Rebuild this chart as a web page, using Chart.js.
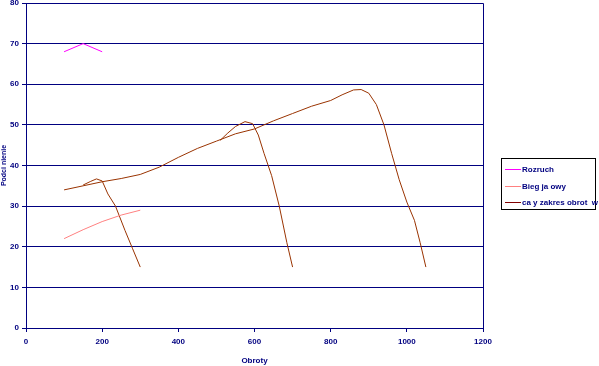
<!DOCTYPE html>
<html>
<head>
<meta charset="utf-8">
<script src="https://cdn.jsdelivr.net/npm/chart.js@4"></script>
<style>
  html, body { margin: 0; padding: 0; background: #fff; }
  #wrap { width: 599px; height: 366px; }
</style>
</head>
<body>
<div id="wrap"><canvas id="myChart" width="599" height="366"></canvas></div>
<script>
// rpm ticks / axis
const xTicks = [0, 200, 400, 600, 800, 1000, 1200];
const yTicks = [0, 10, 20, 30, 40, 50, 60, 70, 80];

// Rozruch
const startRpm = [100, 150, 200];
const startVal = [68, 70, 68];

// Bieg jalowy
const idleRpm = [100, 150, 200, 250, 300];
const idleVal = [22, 24.2, 26.2, 27.8, 29];

// caly zakres obrotow - main curve + two branches
const mainRpm = [100, 150, 200, 250, 300, 350, 400, 450, 500, 550, 600, 650, 700, 750, 800, 830, 860, 880, 900, 920, 940, 960, 980, 1000, 1020, 1035, 1050];
const mainVal = [34, 35, 36, 36.8, 37.8, 39.6, 42, 44.2, 46, 47.8, 49, 51, 52.8, 54.6, 56, 57.4, 58.6, 58.7, 57.8, 55, 50, 43, 36.5, 31, 26.5, 21, 15];
const gear1Rpm = [150, 170, 185, 200, 215, 235, 260, 280, 300];
const gear1Val = [35.2, 36.1, 36.7, 36.2, 33, 30, 24, 19.5, 15];
const gear2Rpm = [510, 530, 550, 575, 595, 610, 625, 645, 665, 685, 700];
const gear2Val = [46.2, 48, 49.6, 50.8, 50.3, 47.5, 43, 37.5, 30, 21, 15];

const navy = '#000080';
const colors = ['#FF00FF', '#FF8080', '#993300'];
const legendColors = ['#FF00FF', '#FF8080', '#800000'];

function pts(xs, ys) {
  return xs.map((x, i) => ({x: x, y: ys[i]}));
}

let fullData = pts(mainRpm, mainVal)
  .concat([{x: gear1Rpm[0], y: null}])
  .concat(pts(gear1Rpm, gear1Val))
  .concat([{x: gear2Rpm[0], y: null}])
  .concat(pts(gear2Rpm, gear2Val));

const frame = {
  id: 'frame',
  afterDraw(chart) {
    const c = chart.ctx;
    const a = chart.chartArea;
    c.save();
    c.strokeStyle = navy;
    c.lineWidth = 1;
    c.beginPath();
    c.moveTo(a.left, a.top + 0.5);
    c.lineTo(a.right + 0.5, a.top + 0.5);
    c.lineTo(a.right + 0.5, a.bottom);
    c.stroke();

    // legend box
    c.strokeStyle = '#000000';
    c.strokeRect(501.5, 158.5, 94, 51);
    const rows = [169, 186, 202];
    chart.data.datasets.forEach((ds, i) => {
      c.strokeStyle = legendColors[i];
      c.lineWidth = 1;
      c.beginPath();
      c.moveTo(505, rows[i] + 0.5);
      c.lineTo(521, rows[i] + 0.5);
      c.stroke();
      c.fillStyle = navy;
      c.font = 'bold 8px "Liberation Sans", Arial, sans-serif';
      c.textBaseline = 'middle';
      c.textAlign = 'left';
      c.fillText(ds.label, 522, rows[i] + 0.5);
    });
    c.restore();
  }
};

Chart.defaults.font.family = '"Liberation Sans", Arial, sans-serif';
Chart.defaults.color = navy;

new Chart(document.getElementById('myChart').getContext('2d'), {
  type: 'line',
  data: {
    datasets: [
      {
        label: 'Rozruch',
        data: pts(startRpm, startVal),
        borderColor: colors[0],
        borderWidth: 1,
        pointRadius: 0
      },
      {
        label: 'Bieg ja owy',
        data: pts(idleRpm, idleVal),
        borderColor: colors[1],
        borderWidth: 1,
        pointRadius: 0
      },
      {
        label: 'ca y zakres obrot  w',
        data: fullData,
        borderColor: colors[2],
        borderWidth: 1,
        pointRadius: 0,
        spanGaps: false
      }
    ]
  },
  options: {
    responsive: false,
    animation: false,
    layout: { padding: { top: 3, right: 116, left: 0, bottom: 0 } },
    plugins: {
      legend: { display: false },
      tooltip: { enabled: false }
    },
    scales: {
      x: {
        type: 'linear',
        min: 0,
        max: 1200,
        afterBuildTicks: s => { s.ticks = xTicks.map(v => ({value: v})); },
        afterFit: s => { s.height = 38; s.paddingLeft = 0; s.paddingRight = 0; },
        grid: { drawOnChartArea: false, color: navy, tickLength: 4, tickColor: navy },
        border: { color: navy, width: 1 },
        ticks: { font: { size: 8, weight: 'bold' }, color: navy, padding: 5, maxRotation: 0, callback: v => String(v) },
        title: { display: true, text: 'Obroty', color: navy, font: { size: 8, weight: 'bold' }, padding: { top: 4, bottom: 0 } }
      },
      y: {
        min: 0,
        max: 80,
        afterBuildTicks: s => { s.ticks = yTicks.map(v => ({value: v})); },
        afterFit: s => { s.width = 26; s.paddingTop = 0; s.paddingBottom = 0; },
        grid: { color: navy, lineWidth: 1, tickLength: 4, tickColor: navy },
        border: { color: navy, width: 1 },
        ticks: { font: { size: 8, weight: 'bold' }, color: navy, padding: 3, callback: v => String(v) },
        title: { display: true, text: 'Podci nienie', color: navy, font: { size: 7, weight: 'bold' }, padding: 0 }
      }
    }
  },
  plugins: [frame]
});
</script>
</body>
</html>
